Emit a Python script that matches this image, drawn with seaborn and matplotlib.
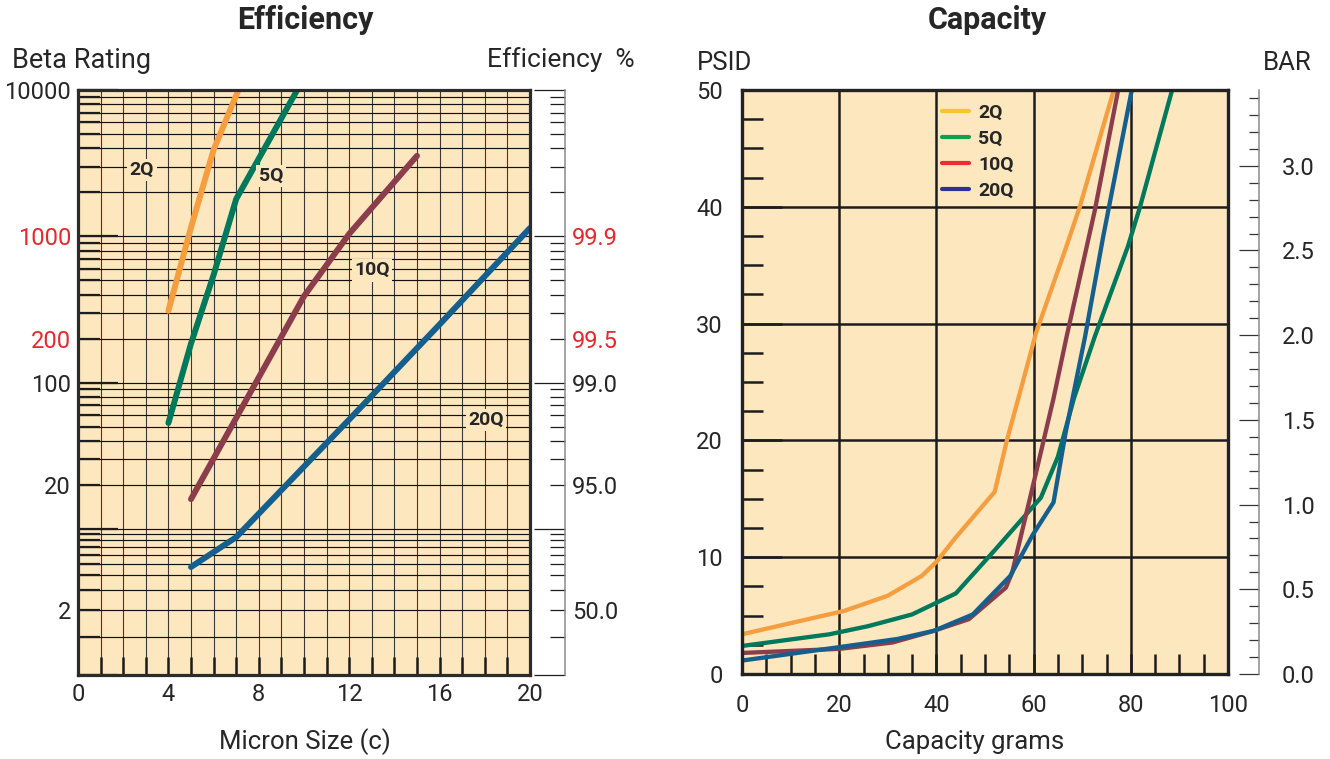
import numpy as np
import pandas as pd
import matplotlib
matplotlib.use("Agg")
import matplotlib.pyplot as plt
from matplotlib.lines import Line2D
import seaborn as sns

GRADES = ["2Q", "5Q", "10Q", "20Q"]

# Efficiency chart: beta rating vs micron size
micron_2q = [4, 5, 6, 7.1]
beta_2q = [310, 1150, 3900, 10000]
micron_5q = [4, 5, 6, 7, 9.7]
beta_5q = [53, 185, 545, 1800, 10000]
micron_10q = [5, 10, 12, 15]
beta_10q = [16, 390, 1040, 3550]
micron_20q = [5, 7, 12, 16, 20]
beta_20q = [4.7, 8.5, 56, 250, 1140]

beta_ticks = [10000, 1000, 200, 100, 20, 2]
beta_labels = ["10000", "1000", "200", "100", "20", "2"]
eff_labels = ["", "99.9", "99.5", "99.0", "95.0", "50.0"]
red_labels = ["1000", "200", "99.9", "99.5"]
micron_ticks = [0, 4, 8, 12, 16, 20]

# Capacity chart: PSID vs grams
grams_2q = [0, 21, 30, 37, 40, 44, 52, 54.5, 57, 60.5, 66.5, 69.5, 76.5]
psid_2q = [3.4, 5.4, 6.7, 8.4, 9.6, 11.7, 15.6, 20.0, 23.8, 29.2, 36.3, 40.0, 50.0]
grams_5q = [0, 18, 26, 35, 44, 52, 61.5, 65, 68.3, 72.6, 79.4, 81.9, 88.5]
psid_5q = [2.4, 3.4, 4.1, 5.1, 6.9, 10.6, 15.1, 18.6, 23.6, 28.9, 36.6, 40.0, 50.0]
grams_10q = [0, 20, 31, 39.5, 46.7, 54.3, 55.6, 59.8, 64.1, 66.8, 72.6, 77.4]
psid_10q = [1.8, 2.15, 2.7, 3.7, 4.7, 7.4, 8.7, 16.0, 23.6, 28.9, 39.7, 50.0]
grams_20q = [0, 20, 32, 39.5, 47.5, 55.2, 59.8, 64.1, 66.6, 70.6, 74.3, 80.2]
psid_20q = [1.15, 2.3, 3.0, 3.7, 5.1, 8.4, 11.9, 14.7, 20.7, 28.9, 37.4, 50.0]

PSI_PER_BAR = 14.5038

CREAM = "#FDE7BF"
INK = "#1c1c1c"
RED = "#E5282E"
LINE_COLORS = {"2Q": "#F49E40", "5Q": "#00785C", "10Q": "#8C3D4C", "20Q": "#155F8E"}
KEY_COLORS = {"2Q": "#F5C52B", "5Q": "#0DA14B", "10Q": "#EC2B34", "20Q": "#2E3192"}

eff_df = pd.concat([
    pd.DataFrame({"micron": m, "beta": b, "grade": g})
    for g, m, b in zip(GRADES, [micron_2q, micron_5q, micron_10q, micron_20q],
                       [beta_2q, beta_5q, beta_10q, beta_20q])
])
cap_df = pd.concat([
    pd.DataFrame({"grams": x, "psid": y, "grade": g})
    for g, x, y in zip(GRADES, [grams_2q, grams_5q, grams_10q, grams_20q],
                       [psid_2q, psid_5q, psid_10q, psid_20q])
])

sns.set_theme(style="white")
plt.rcParams["font.family"] = ["Roboto", "DejaVu Sans"]

# printed beta scale is log-like but squeezes the lowest decade
KNOT_LOG = [-4, 0, np.log10(2), 1, 4, 8]
KNOT_POS = [-585, 0, 65, 146, 585, 1170]


def beta_fwd(v):
    v = np.asarray(v, dtype=float)
    with np.errstate(divide="ignore", invalid="ignore"):
        lv = np.log10(np.where(v > 0, v, 1e-4))
    return np.interp(lv, KNOT_LOG, KNOT_POS)


def beta_inv(p):
    return 10 ** np.interp(np.asarray(p, dtype=float), KNOT_POS, KNOT_LOG)


def tick_text(positions, ticks, labels):
    lookup = dict(zip(ticks, labels))
    return [lookup.get(p, "") for p in positions]


W, H = 1330, 759
fig = plt.figure(figsize=(W / 100, H / 100), dpi=100)
ax1 = fig.add_axes([78 / W, 1 - 675 / H, 452 / W, 585 / H])
ax2 = fig.add_axes([742 / W, 1 - 674 / H, 486 / W, 584 / H])

# ---------------- Efficiency ----------------
sns.lineplot(data=eff_df, x="micron", y="beta", hue="grade", hue_order=GRADES,
             palette=LINE_COLORS, linewidth=4.3, legend=False, ax=ax1,
             solid_capstyle="round")
ax1.set_facecolor(CREAM)
ax1.set_yscale("function", functions=(beta_fwd, beta_inv))
ax1.set_ylim(1, 10000)
ax1.set_xlim(0, 20)
ax1.set_xlabel("")
ax1.set_ylabel("")

decades = [1, 10, 100, 1000, 10000]
minors = [1.5] + [m * d for d in (1, 10, 100, 1000) for m in range(2, 10)]
ax1.set_yticks(decades, tick_text(decades, beta_ticks, beta_labels))
ax1.set_yticks(minors, tick_text(minors, beta_ticks, beta_labels), minor=True)
ax1.set_xticks(micron_ticks)
ax1.set_xticks(range(0, 21), minor=True)
ax1.tick_params(axis="y", which="major", direction="in", length=29, width=1.6,
                color=INK, pad=5, labelsize=17, left=True)
ax1.tick_params(axis="y", which="minor", direction="in", length=16, width=1.6,
                color=INK, pad=5, labelsize=17, left=True)
ax1.tick_params(axis="x", which="both", direction="in", length=13, width=1.8,
                color=INK, pad=6, labelsize=17, bottom=True)
ax1.xaxis.grid(True, which="both", color="#3a3a3a", lw=0.8)
ax1.yaxis.grid(True, which="both", color="#111111", lw=0.85)
for s in ax1.spines.values():
    s.set_visible(True)
    s.set_color("#2b2b2b")
    s.set_linewidth(2.3)

label_pos = [(0.1416, 0.863), (0.427, 0.853), (0.650, 0.692), (0.903, 0.436)]
for g, (fx, fy) in zip(GRADES, label_pos):
    ax1.text(fx, fy, g, transform=ax1.transAxes, ha="center", va="center",
             fontsize=14, fontweight="bold", zorder=5,
             bbox=dict(boxstyle="square,pad=0.12", fc=CREAM, ec="none"))

ax1e = ax1.twinx()
ax1e.set_yscale("function", functions=(beta_fwd, beta_inv))
ax1e.set_ylim(1, 10000)
for side in ("left", "top", "bottom"):
    ax1e.spines[side].set_visible(False)
ax1e.spines["right"].set_position(("axes", (565 - 78) / 452))
ax1e.spines["right"].set_color("#8a8a8a")
ax1e.spines["right"].set_linewidth(1.1)
ax1e.set_yticks(decades, tick_text(decades, beta_ticks, eff_labels))
ax1e.set_yticks(minors, tick_text(minors, beta_ticks, eff_labels), minor=True)
ax1e.tick_params(axis="y", which="major", direction="in", length=22, width=0.9,
                 color=INK, pad=5, labelsize=17, right=True)
ax1e.tick_params(axis="y", which="minor", direction="in", length=11, width=0.9,
                 color=INK, pad=5, labelsize=17, right=True)
ax1e.grid(False)

for a in (ax1, ax1e):
    for lbl in a.get_yticklabels(which="both"):
        if lbl.get_text() in red_labels:
            lbl.set_color(RED)

# ---------------- Capacity ----------------
sns.lineplot(data=cap_df, x="grams", y="psid", hue="grade", hue_order=GRADES,
             palette=LINE_COLORS, linewidth=3.1, legend=False, ax=ax2,
             solid_capstyle="round")
ax2.set_facecolor(CREAM)
ax2.set_xlim(0, 100)
ax2.set_ylim(0, 50)
ax2.set_xlabel("")
ax2.set_ylabel("")
ax2.set_xticks(range(0, 101, 20))
ax2.set_xticks(range(0, 101, 5), minor=True)
ax2.set_yticks(range(0, 51, 10))
ax2.set_yticks(np.arange(0, 50.1, 2.5), minor=True)
ax2.grid(True, which="major", color=INK, lw=1.8)
ax2.tick_params(axis="x", which="both", direction="in", length=14.4, width=1.8,
                color=INK, pad=14.5, labelsize=17, bottom=True)
ax2.tick_params(axis="y", which="major", direction="in", length=29, width=1.8,
                color=INK, pad=13.7, labelsize=17, left=True)
ax2.tick_params(axis="y", which="minor", direction="in", length=15, width=1.8,
                color=INK, left=True)
for s in ax2.spines.values():
    s.set_visible(True)
    s.set_color("#222222")
    s.set_linewidth(2.4)

ax2b = ax2.secondary_yaxis((1259 - 742) / 486,
                           functions=(lambda p: p / PSI_PER_BAR,
                                      lambda b: b * PSI_PER_BAR))
ax2b.set_yticks(np.arange(0, 3.01, 0.5))
ax2b.set_yticks(np.arange(0, 3.45, 0.1), minor=True)
ax2b.yaxis.set_major_formatter("{x:.1f}")
ax2b.tick_params(axis="y", which="major", direction="in", length=14.4, width=0.9,
                 color="#333333", pad=16.5, labelsize=17)
ax2b.tick_params(axis="y", which="minor", direction="in", length=7.2, width=0.9,
                 color="#333333")
for s in ax2b.spines.values():
    s.set_color("#8a8a8a")
    s.set_linewidth(1.1)

handles = [Line2D([], [], color=KEY_COLORS[g], lw=3.0, solid_capstyle="round")
           for g in GRADES]
ax2.legend(handles, GRADES, loc="upper left", bbox_to_anchor=(0.4115, 0.977),
           frameon=False, prop={"weight": "bold", "size": 14},
           handlelength=1.4, handletextpad=0.45, labelspacing=0.42,
           borderpad=0, borderaxespad=0)

# ---------------- titles & axis captions ----------------
fig.text(305 / W, 1 - 20 / H, "Efficiency", ha="center", va="center",
         fontsize=22, fontweight="bold")
fig.text(12 / W, 1 - 60 / H, "Beta Rating", ha="left", va="center", fontsize=19.5)
fig.text(635 / W, 1 - 60 / H, "Efficiency  %", ha="right", va="center", fontsize=19)
fig.text(305 / W, 1 - 742 / H, "Micron Size (c)", ha="center", va="center", fontsize=18.5)

fig.text(987 / W, 1 - 20 / H, "Capacity", ha="center", va="center",
         fontsize=22, fontweight="bold")
fig.text(697 / W, 1 - 63 / H, "PSID", ha="left", va="center", fontsize=18.5)
fig.text(1312 / W, 1 - 63 / H, "BAR", ha="right", va="center", fontsize=18.5)
fig.text(975 / W, 1 - 742 / H, "Capacity grams", ha="center", va="center", fontsize=18.5)

fig.savefig("out.png", dpi=100)
